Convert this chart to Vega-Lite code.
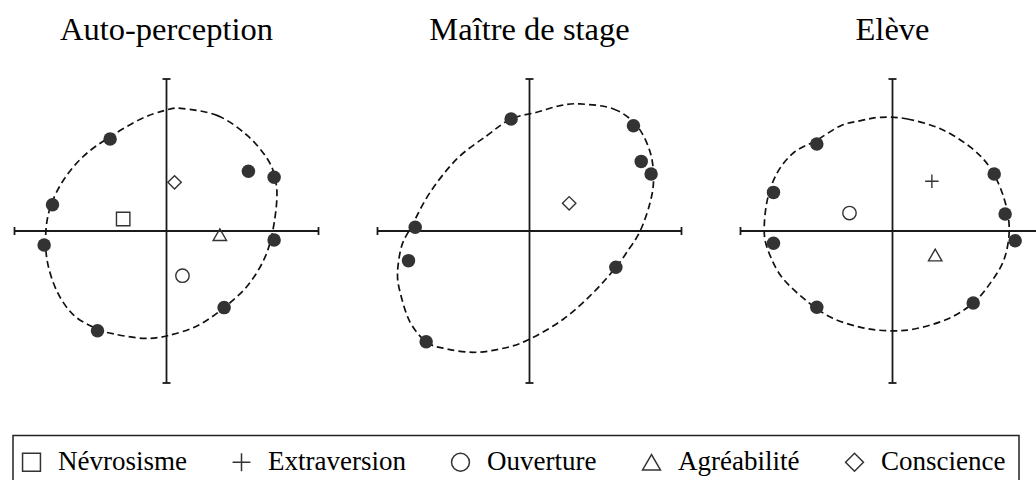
{
  "$schema": "https://vega.github.io/schema/vega-lite/v6.json",
  "padding": {"left": 11.5, "top": 13, "right": 0, "bottom": 0},
  "data": {"values": [
    {"panel": "Auto-perception", "kind": "axis", "x": -1, "x2": 1, "y": 0, "y2": 0},
    {"panel": "Auto-perception", "kind": "axis", "x": 0, "x2": 0, "y": -1, "y2": 1},
    {"panel": "Maître de stage", "kind": "axis", "x": -1, "x2": 1, "y": 0, "y2": 0},
    {"panel": "Maître de stage", "kind": "axis", "x": 0, "x2": 0, "y": -1, "y2": 1},
    {"panel": "Elève", "kind": "axis", "x": -1, "x2": 1, "y": 0, "y2": 0},
    {"panel": "Elève", "kind": "axis", "x": 0, "x2": 0, "y": -1, "y2": 1},
    {"panel": "Auto-perception", "kind": "vcap", "x": -1, "y": 0},
    {"panel": "Auto-perception", "kind": "vcap", "x": 1, "y": 0},
    {"panel": "Auto-perception", "kind": "hcap", "x": 0, "y": -1},
    {"panel": "Auto-perception", "kind": "hcap", "x": 0, "y": 1},
    {"panel": "Maître de stage", "kind": "vcap", "x": -1, "y": 0},
    {"panel": "Maître de stage", "kind": "vcap", "x": 1, "y": 0},
    {"panel": "Maître de stage", "kind": "hcap", "x": 0, "y": -1},
    {"panel": "Maître de stage", "kind": "hcap", "x": 0, "y": 1},
    {"panel": "Elève", "kind": "vcap", "x": -1, "y": 0},
    {"panel": "Elève", "kind": "vcap", "x": 1, "y": 0},
    {"panel": "Elève", "kind": "hcap", "x": 0, "y": -1},
    {"panel": "Elève", "kind": "hcap", "x": 0, "y": 1},

    {"panel": "Auto-perception", "kind": "ell", "i": 1, "x": 0.094, "y": 0.807},
    {"panel": "Auto-perception", "kind": "ell", "i": 2, "x": 0.336, "y": 0.759},
    {"panel": "Auto-perception", "kind": "ell", "i": 3, "x": 0.533, "y": 0.627},
    {"panel": "Auto-perception", "kind": "ell", "i": 4, "x": 0.664, "y": 0.474},
    {"panel": "Auto-perception", "kind": "ell", "i": 5, "x": 0.713, "y": 0.353},
    {"panel": "Auto-perception", "kind": "ell", "i": 6, "x": 0.726, "y": 0.211},
    {"panel": "Auto-perception", "kind": "ell", "i": 7, "x": 0.697, "y": -0.009},
    {"panel": "Auto-perception", "kind": "ell", "i": 8, "x": 0.643, "y": -0.184},
    {"panel": "Auto-perception", "kind": "ell", "i": 9, "x": 0.533, "y": -0.36},
    {"panel": "Auto-perception", "kind": "ell", "i": 10, "x": 0.379, "y": -0.504},
    {"panel": "Auto-perception", "kind": "ell", "i": 11, "x": 0.204, "y": -0.623},
    {"panel": "Auto-perception", "kind": "ell", "i": 12, "x": 0.007, "y": -0.689},
    {"panel": "Auto-perception", "kind": "ell", "i": 13, "x": -0.147, "y": -0.706},
    {"panel": "Auto-perception", "kind": "ell", "i": 14, "x": -0.344, "y": -0.678},
    {"panel": "Auto-perception", "kind": "ell", "i": 15, "x": -0.454, "y": -0.645},
    {"panel": "Auto-perception", "kind": "ell", "i": 16, "x": -0.607, "y": -0.557},
    {"panel": "Auto-perception", "kind": "ell", "i": 17, "x": -0.717, "y": -0.404},
    {"panel": "Auto-perception", "kind": "ell", "i": 18, "x": -0.783, "y": -0.206},
    {"panel": "Auto-perception", "kind": "ell", "i": 19, "x": -0.794, "y": -0.009},
    {"panel": "Auto-perception", "kind": "ell", "i": 20, "x": -0.761, "y": 0.167},
    {"panel": "Auto-perception", "kind": "ell", "i": 21, "x": -0.673, "y": 0.342},
    {"panel": "Auto-perception", "kind": "ell", "i": 22, "x": -0.542, "y": 0.496},
    {"panel": "Auto-perception", "kind": "ell", "i": 23, "x": -0.371, "y": 0.62},
    {"panel": "Auto-perception", "kind": "ell", "i": 24, "x": -0.169, "y": 0.737},
    {"panel": "Auto-perception", "kind": "ell", "i": 25, "x": -0.015, "y": 0.792},

    {"panel": "Maître de stage", "kind": "ell", "i": 1, "x": 0.333, "y": 0.836},
    {"panel": "Maître de stage", "kind": "ell", "i": 2, "x": 0.553, "y": 0.803},
    {"panel": "Maître de stage", "kind": "ell", "i": 3, "x": 0.706, "y": 0.693},
    {"panel": "Maître de stage", "kind": "ell", "i": 4, "x": 0.794, "y": 0.518},
    {"panel": "Maître de stage", "kind": "ell", "i": 5, "x": 0.816, "y": 0.342},
    {"panel": "Maître de stage", "kind": "ell", "i": 6, "x": 0.794, "y": 0.189},
    {"panel": "Maître de stage", "kind": "ell", "i": 7, "x": 0.728, "y": 0.0},
    {"panel": "Maître de stage", "kind": "ell", "i": 8, "x": 0.64, "y": -0.14},
    {"panel": "Maître de stage", "kind": "ell", "i": 9, "x": 0.568, "y": -0.239},
    {"panel": "Maître de stage", "kind": "ell", "i": 10, "x": 0.421, "y": -0.404},
    {"panel": "Maître de stage", "kind": "ell", "i": 11, "x": 0.224, "y": -0.579},
    {"panel": "Maître de stage", "kind": "ell", "i": 12, "x": -0.018, "y": -0.721},
    {"panel": "Maître de stage", "kind": "ell", "i": 13, "x": -0.193, "y": -0.776},
    {"panel": "Maître de stage", "kind": "ell", "i": 14, "x": -0.368, "y": -0.798},
    {"panel": "Maître de stage", "kind": "ell", "i": 15, "x": -0.544, "y": -0.776},
    {"panel": "Maître de stage", "kind": "ell", "i": 16, "x": -0.675, "y": -0.732},
    {"panel": "Maître de stage", "kind": "ell", "i": 17, "x": -0.785, "y": -0.601},
    {"panel": "Maître de stage", "kind": "ell", "i": 18, "x": -0.851, "y": -0.404},
    {"panel": "Maître de stage", "kind": "ell", "i": 19, "x": -0.868, "y": -0.272},
    {"panel": "Maître de stage", "kind": "ell", "i": 20, "x": -0.84, "y": -0.096},
    {"panel": "Maître de stage", "kind": "ell", "i": 21, "x": -0.774, "y": 0.035},
    {"panel": "Maître de stage", "kind": "ell", "i": 22, "x": -0.654, "y": 0.254},
    {"panel": "Maître de stage", "kind": "ell", "i": 23, "x": -0.478, "y": 0.474},
    {"panel": "Maître de stage", "kind": "ell", "i": 24, "x": -0.281, "y": 0.627},
    {"panel": "Maître de stage", "kind": "ell", "i": 25, "x": -0.121, "y": 0.737},
    {"panel": "Maître de stage", "kind": "ell", "i": 26, "x": 0.048, "y": 0.781},
    {"panel": "Maître de stage", "kind": "ell", "i": 27, "x": 0.202, "y": 0.825},

    {"panel": "Elève", "kind": "ell", "i": 1, "x": -0.077, "y": 0.748},
    {"panel": "Elève", "kind": "ell", "i": 2, "x": 0.099, "y": 0.737},
    {"panel": "Elève", "kind": "ell", "i": 3, "x": 0.318, "y": 0.671},
    {"panel": "Elève", "kind": "ell", "i": 4, "x": 0.515, "y": 0.55},
    {"panel": "Elève", "kind": "ell", "i": 5, "x": 0.647, "y": 0.408},
    {"panel": "Elève", "kind": "ell", "i": 6, "x": 0.735, "y": 0.211},
    {"panel": "Elève", "kind": "ell", "i": 7, "x": 0.768, "y": 0.013},
    {"panel": "Elève", "kind": "ell", "i": 8, "x": 0.735, "y": -0.184},
    {"panel": "Elève", "kind": "ell", "i": 9, "x": 0.647, "y": -0.338},
    {"panel": "Elève", "kind": "ell", "i": 10, "x": 0.531, "y": -0.474},
    {"panel": "Elève", "kind": "ell", "i": 11, "x": 0.362, "y": -0.579},
    {"panel": "Elève", "kind": "ell", "i": 12, "x": 0.143, "y": -0.645},
    {"panel": "Elève", "kind": "ell", "i": 13, "x": -0.033, "y": -0.656},
    {"panel": "Elève", "kind": "ell", "i": 14, "x": -0.208, "y": -0.634},
    {"panel": "Elève", "kind": "ell", "i": 15, "x": -0.406, "y": -0.568},
    {"panel": "Elève", "kind": "ell", "i": 16, "x": -0.581, "y": -0.447},
    {"panel": "Elève", "kind": "ell", "i": 17, "x": -0.735, "y": -0.294},
    {"panel": "Elève", "kind": "ell", "i": 18, "x": -0.822, "y": -0.118},
    {"panel": "Elève", "kind": "ell", "i": 19, "x": -0.844, "y": 0.013},
    {"panel": "Elève", "kind": "ell", "i": 20, "x": -0.822, "y": 0.211},
    {"panel": "Elève", "kind": "ell", "i": 21, "x": -0.757, "y": 0.386},
    {"panel": "Elève", "kind": "ell", "i": 22, "x": -0.647, "y": 0.518},
    {"panel": "Elève", "kind": "ell", "i": 23, "x": -0.504, "y": 0.594},
    {"panel": "Elève", "kind": "ell", "i": 24, "x": -0.34, "y": 0.693},
    {"panel": "Elève", "kind": "ell", "i": 25, "x": -0.208, "y": 0.726},

    {"panel": "Auto-perception", "kind": "dot", "x": -0.371, "y": 0.605},
    {"panel": "Auto-perception", "kind": "dot", "x": -0.75, "y": 0.173},
    {"panel": "Auto-perception", "kind": "dot", "x": -0.805, "y": -0.092},
    {"panel": "Auto-perception", "kind": "dot", "x": -0.454, "y": -0.656},
    {"panel": "Auto-perception", "kind": "dot", "x": 0.379, "y": -0.504},
    {"panel": "Auto-perception", "kind": "dot", "x": 0.708, "y": -0.059},
    {"panel": "Auto-perception", "kind": "dot", "x": 0.708, "y": 0.353},
    {"panel": "Auto-perception", "kind": "dot", "x": 0.539, "y": 0.393},
    {"panel": "Maître de stage", "kind": "dot", "x": -0.121, "y": 0.737},
    {"panel": "Maître de stage", "kind": "dot", "x": 0.684, "y": 0.693},
    {"panel": "Maître de stage", "kind": "dot", "x": 0.735, "y": 0.458},
    {"panel": "Maître de stage", "kind": "dot", "x": 0.8, "y": 0.375},
    {"panel": "Maître de stage", "kind": "dot", "x": -0.752, "y": 0.024},
    {"panel": "Maître de stage", "kind": "dot", "x": -0.796, "y": -0.195},
    {"panel": "Maître de stage", "kind": "dot", "x": 0.568, "y": -0.239},
    {"panel": "Maître de stage", "kind": "dot", "x": -0.68, "y": -0.728},
    {"panel": "Elève", "kind": "dot", "x": -0.498, "y": 0.572},
    {"panel": "Elève", "kind": "dot", "x": -0.783, "y": 0.254},
    {"panel": "Elève", "kind": "dot", "x": -0.783, "y": -0.081},
    {"panel": "Elève", "kind": "dot", "x": -0.498, "y": -0.502},
    {"panel": "Elève", "kind": "dot", "x": 0.669, "y": 0.375},
    {"panel": "Elève", "kind": "dot", "x": 0.741, "y": 0.112},
    {"panel": "Elève", "kind": "dot", "x": 0.807, "y": -0.064},
    {"panel": "Elève", "kind": "dot", "x": 0.531, "y": -0.474},

    {"panel": "Auto-perception", "kind": "trait", "trait": "Névrosisme", "x": -0.285, "y": 0.079},
    {"panel": "Auto-perception", "kind": "trait", "trait": "Ouverture", "x": 0.105, "y": -0.294},
    {"panel": "Auto-perception", "kind": "trait", "trait": "Agréabilité", "x": 0.351, "y": -0.024},
    {"panel": "Auto-perception", "kind": "trait", "trait": "Conscience", "x": 0.053, "y": 0.32},
    {"panel": "Maître de stage", "kind": "trait", "trait": "Conscience", "x": 0.261, "y": 0.182},
    {"panel": "Elève", "kind": "trait", "trait": "Extraversion", "x": 0.259, "y": 0.327},
    {"panel": "Elève", "kind": "trait", "trait": "Ouverture", "x": -0.283, "y": 0.118},
    {"panel": "Elève", "kind": "trait", "trait": "Agréabilité", "x": 0.281, "y": -0.158}
  ]},
  "facet": {
    "column": {
      "field": "panel",
      "type": "nominal",
      "sort": ["Auto-perception", "Maître de stage", "Elève"],
      "title": null,
      "header": {"labelFont": "Liberation Serif", "labelFontSize": 32.5, "labelColor": "#000", "labelPadding": 32}
    }
  },
  "spacing": 57,
  "spec": {
    "width": 304,
    "height": 304,
    "layer": [
      {
        "transform": [{"filter": "datum.kind === 'axis'"}],
        "mark": {"type": "rule", "color": "#1a1a1a", "strokeWidth": 1.8},
        "encoding": {
          "x": {"field": "x", "type": "quantitative", "scale": {"domain": [-1, 1]}, "axis": null},
          "y": {"field": "y", "type": "quantitative", "scale": {"domain": [-1, 1]}, "axis": null},
          "x2": {"field": "x2"},
          "y2": {"field": "y2"}
        }
      },
      {
        "transform": [{"filter": "datum.kind === 'vcap'"}],
        "mark": {"type": "tick", "orient": "vertical", "size": 8, "thickness": 1.8, "color": "#1a1a1a", "opacity": 1},
        "encoding": {
          "x": {"field": "x", "type": "quantitative"},
          "y": {"field": "y", "type": "quantitative"}
        }
      },
      {
        "transform": [{"filter": "datum.kind === 'hcap'"}],
        "mark": {"type": "tick", "orient": "horizontal", "size": 8, "thickness": 1.8, "color": "#1a1a1a", "opacity": 1},
        "encoding": {
          "x": {"field": "x", "type": "quantitative"},
          "y": {"field": "y", "type": "quantitative"}
        }
      },
      {
        "transform": [{"filter": "datum.kind === 'ell'"}],
        "mark": {"type": "line", "interpolate": "cardinal-closed", "strokeDash": [7, 4], "strokeWidth": 1.7, "color": "#111"},
        "encoding": {
          "x": {"field": "x", "type": "quantitative"},
          "y": {"field": "y", "type": "quantitative"},
          "order": {"field": "i", "type": "quantitative"}
        }
      },
      {
        "transform": [{"filter": "datum.kind === 'dot'"}],
        "mark": {"type": "circle", "size": 182, "color": "#333", "opacity": 1},
        "encoding": {
          "x": {"field": "x", "type": "quantitative"},
          "y": {"field": "y", "type": "quantitative"}
        }
      },
      {
        "transform": [{"filter": "datum.kind === 'trait'"}],
        "mark": {"type": "point", "filled": false, "size": 180, "strokeWidth": 1.4, "color": "#333", "opacity": 1},
        "encoding": {
          "x": {"field": "x", "type": "quantitative"},
          "y": {"field": "y", "type": "quantitative"},
          "shape": {
            "field": "trait",
            "type": "nominal",
            "scale": {
              "domain": ["Névrosisme", "Extraversion", "Ouverture", "Agréabilité", "Conscience"],
              "range": ["square", "M-1,0L1,0M0,-1L0,1", "circle", "triangle-up", "diamond"]
            },
            "legend": {
              "orient": "none",
              "legendX": -1.5,
              "legendY": 356.5,
              "direction": "horizontal",
              "columns": 5,
              "title": null,
              "symbolSize": 320,
              "symbolOffset": -8,
              "symbolStrokeWidth": 1.5,
              "symbolStrokeColor": "#333",
              "symbolFillColor": "transparent",
              "labelFont": "Liberation Serif",
              "labelFontSize": 27,
              "labelColor": "#000",
              "labelOffset": 13,
              "columnPadding": 42,
              "padding": 13,
              "strokeColor": "#222"
            }
          }
        }
      }
    ]
  },
  "config": {
    "view": {"stroke": null},
    "legend": {"strokeWidth": 1.5}
  }
}
